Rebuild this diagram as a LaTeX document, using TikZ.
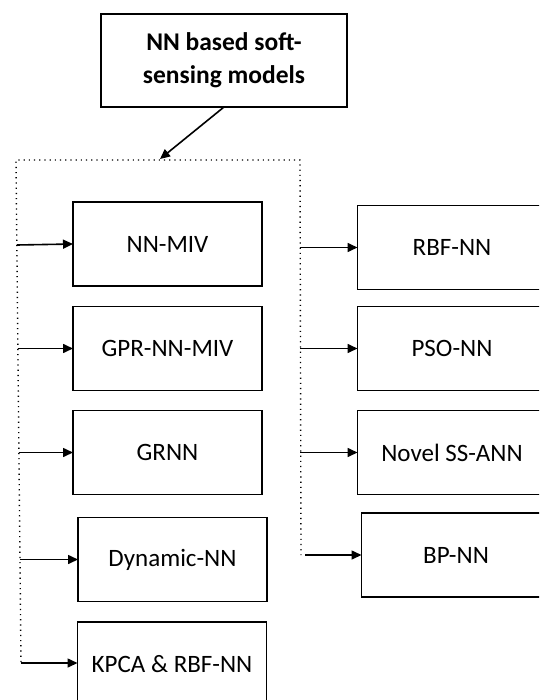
\documentclass[tikz,border=0pt]{standalone}
\usepackage{fontspec}
\setmainfont{Carlito}
\usetikzlibrary{arrows.meta}

\tikzset{
  box/.style={draw, line width=1.7pt, inner sep=0pt, outer sep=0pt,
    minimum width=189pt, minimum height=84pt, align=center,
    font=\fontsize{25}{30}\selectfont},
  titlebox/.style={box, minimum width=246pt, minimum height=93pt,
    font=\fontsize{25.5}{33}\selectfont\bfseries},
  link/.style={line width=1.6pt, -{Triangle[length=10pt,width=9pt]}},
  frame/.style={line width=1.4pt, dash pattern=on 1.2pt off 4pt}
}

\begin{document}
\begin{tikzpicture}[x=1pt,y=-1pt]
  \path[use as bounding box] (0,0) rectangle (539,700);
  \clip (0,0) rectangle (539,700);
  \fill[white] (0,0) rectangle (539,700);

  % heading
  \node[titlebox] (top) at (224,60.5) {NN based soft-\\sensing models};

  % dotted grouping frame (open at the bottom)
  \coordinate (fl) at (16,160);
  \coordinate (fr) at (300,160);
  \coordinate (flb) at (21,662);
  \coordinate (frb) at (301,555);
  \draw[frame] (flb) -- (fl) -- (fr) -- (frb);
  \coordinate (hit) at (160,159);
  \draw[link] (top.south) -- (hit);

  % left column
  \node[box] (nnmiv) at (167.5,244) {NN-MIV};
  \node[box] (gpr)   at (167.5,348.5) {GPR-NN-MIV};
  \node[box] (grnn)  at (167.5,452.5) {GRNN};
  \node[box] (dyn)   at (172.5,559.5) {Dynamic-NN};
  \node[box] (kpca)  at (172,664) {KPCA \& RBF-NN};

  % right column
  \node[box] (rbf)   at (452,247.5) {RBF-NN};
  \node[box] (pso)   at (452,348.5) {PSO-NN};
  \node[box] (novel) at (452,452.5) {Novel SS-ANN};
  \node[box] (bp)    at (456,555) {BP-NN};

  % arrows leaving the left side of the frame
  \coordinate (l1) at (17,245);
  \coordinate (l2) at (18,348.5);
  \coordinate (l3) at (19,452.5);
  \coordinate (l4) at (20,559.5);
  \coordinate (l5) at (21,663);
  \draw[link] (l1) -- (nnmiv.west);
  \draw[link] (l2) -- (gpr.west);
  \draw[link] (l3) -- (grnn.west);
  \draw[link] (l4) -- (dyn.west);
  \draw[link] (l5) -- (kpca.west |- l5);

  % arrows leaving the right side of the frame
  \coordinate (r1) at (300,247.5);
  \coordinate (r2) at (300,348.5);
  \coordinate (r3) at (300,452.5);
  \coordinate (r4) at (305,555);
  \draw[link] (r1) -- (rbf.west);
  \draw[link] (r2) -- (pso.west);
  \draw[link] (r3) -- (novel.west);
  \draw[link] (r4) -- (bp.west);
\end{tikzpicture}
\end{document}
